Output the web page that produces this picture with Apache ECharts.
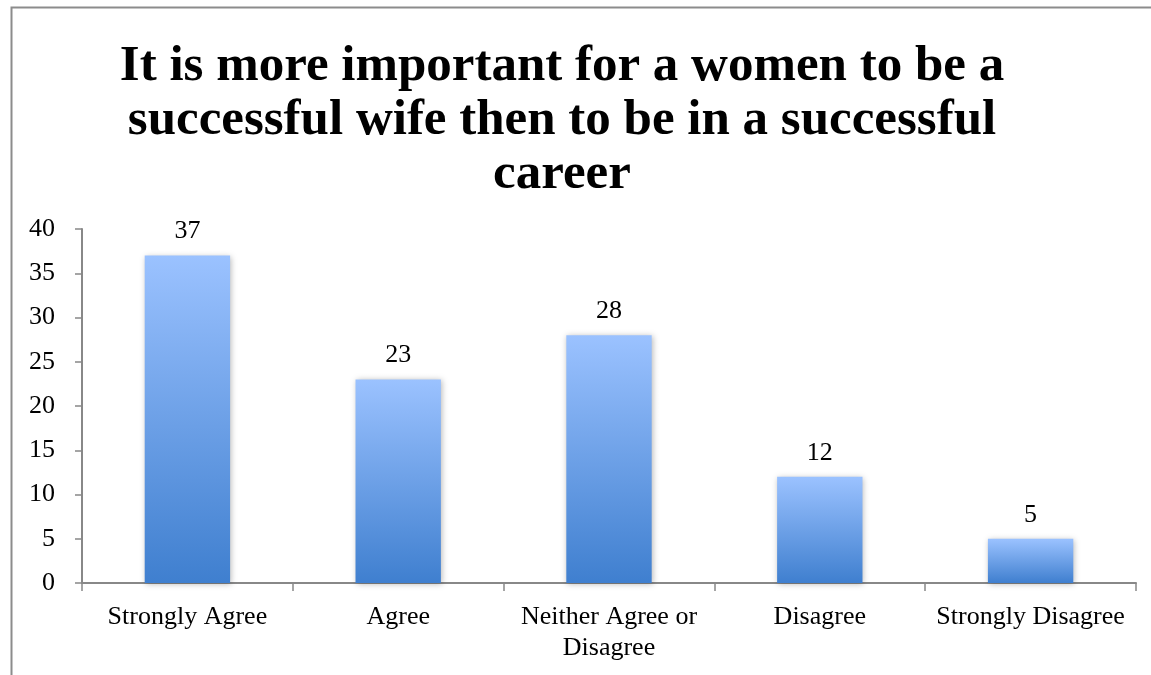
<!DOCTYPE html>
<html>
<head>
<meta charset="utf-8">
<script src="https://cdn.jsdelivr.net/npm/echarts@6/dist/echarts.min.js"></script>
<style>
  html, body { margin: 0; padding: 0; background: #fff; }
  #chart { width: 1151px; height: 675px; }
</style>
</head>
<body>
<div id="chart"></div>
<script>
// Survey responses
const categories = ['Strongly Agree', 'Agree', 'Neither Agree or\nDisagree', 'Disagree', 'Strongly Disagree'];
const counts = [37, 23, 28, 12, 5];
const yTicks = { min: 0, max: 40, interval: 5 };
const titleText = 'It is more important for a women to be a\nsuccessful wife then to be in a successful\ncareer';

const serif = '"Liberation Serif", "DejaVu Serif", serif';

const chart = echarts.init(document.getElementById('chart'), null, { renderer: 'canvas' });

chart.setOption({
  animation: false,
  backgroundColor: '#ffffff',
  graphic: [{
    type: 'polyline',
    shape: { points: [[11.5, 675], [11.5, 7.5], [1151, 7.5]] },
    style: { stroke: '#8c8c8c', lineWidth: 2, fill: null },
    silent: true
  }],
  title: {
    text: titleText,
    left: 557,
    top: 35,
    textAlign: 'center',
    textStyle: {
      fontFamily: serif,
      fontWeight: 'bold',
      fontSize: 51,
      lineHeight: 54,
      color: '#000'
    }
  },
  grid: { left: 82, right: 15, top: 229, bottom: 92, containLabel: false },
  xAxis: {
    type: 'category',
    data: categories,
    axisLine: { lineStyle: { color: '#888', width: 2 } },
    axisTick: { show: true, alignWithLabel: false, length: 8, lineStyle: { color: '#888', width: 1.5 } },
    axisLabel: {
      interval: 0,
      margin: 19,
      fontFamily: serif,
      fontSize: 26,
      lineHeight: 31,
      color: '#000'
    }
  },
  yAxis: {
    type: 'value',
    min: yTicks.min,
    max: yTicks.max,
    interval: yTicks.interval,
    splitLine: { show: false },
    axisLine: { show: true, lineStyle: { color: '#888', width: 2 } },
    axisTick: { show: true, length: 7, lineStyle: { color: '#888', width: 1.5 } },
    axisLabel: {
      margin: 27,
      fontFamily: serif,
      fontSize: 26,
      color: '#000'
    }
  },
  series: [{
    type: 'bar',
    data: counts,
    barWidth: '40.5%',
    itemStyle: {
      color: new echarts.graphic.LinearGradient(0, 0, 0, 1, [
        { offset: 0, color: '#9bc2ff' },
        { offset: 1, color: '#3f7fcf' }
      ]),
      shadowColor: 'rgba(0,0,0,0.28)',
      shadowBlur: 6,
      shadowOffsetX: 1,
      shadowOffsetY: 1
    },
    label: {
      show: true,
      position: 'top',
      distance: 11,
      fontFamily: serif,
      fontSize: 26,
      color: '#000'
    }
  }]
});
</script>
</body>
</html>
